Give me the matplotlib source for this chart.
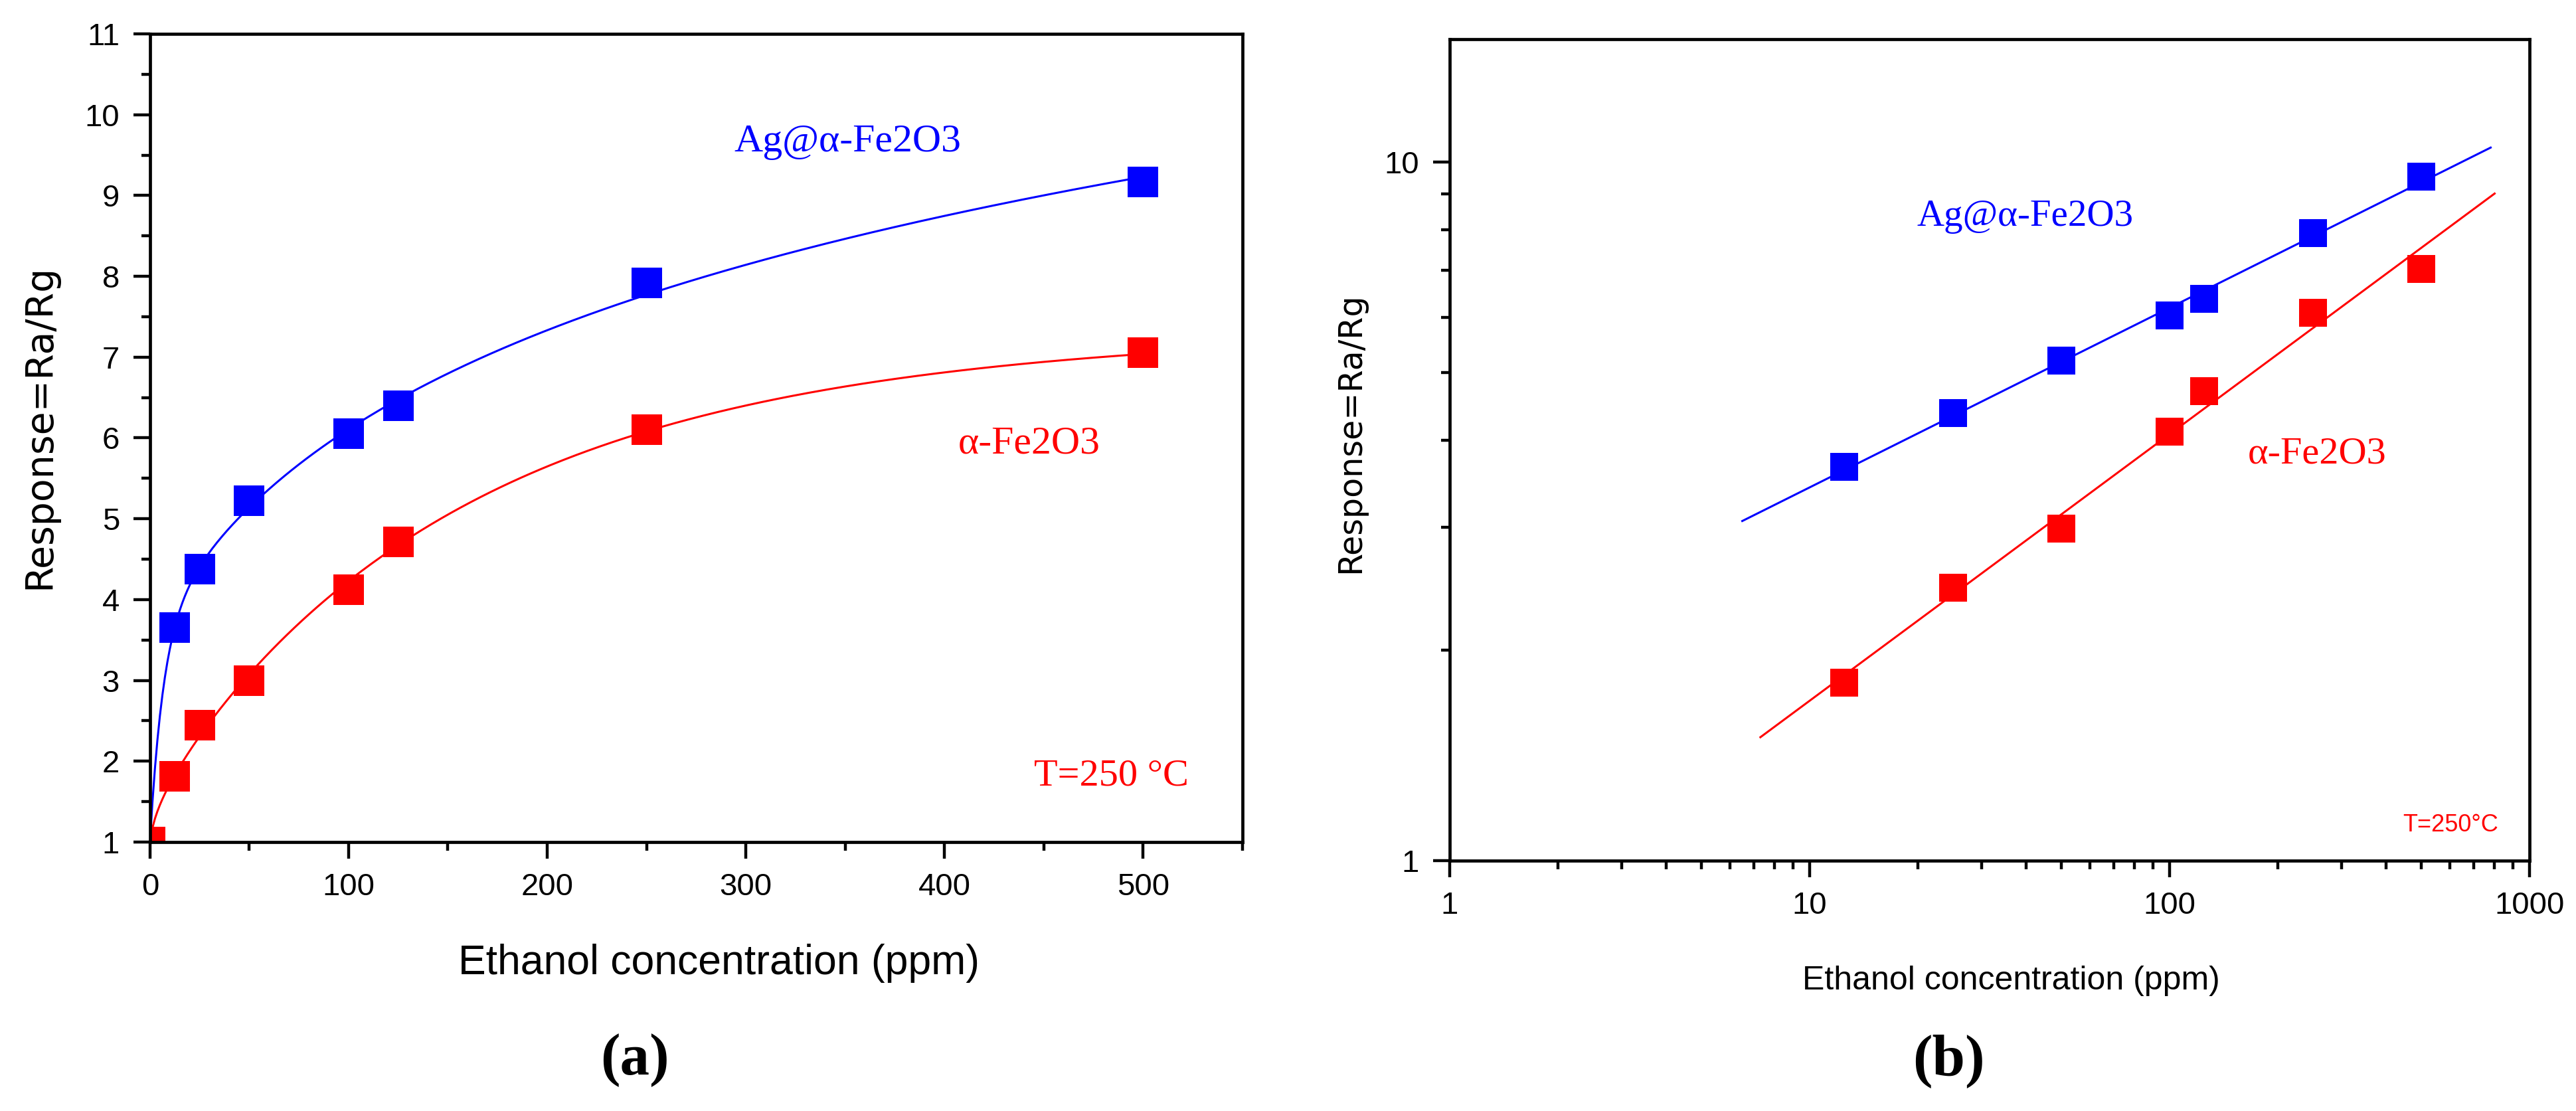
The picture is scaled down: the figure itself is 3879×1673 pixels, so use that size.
import numpy as np
import matplotlib
matplotlib.use("Agg")
import matplotlib.pyplot as plt
from matplotlib.ticker import MultipleLocator, LogLocator, NullFormatter

plt.rcParams['font.family'] = 'Liberation Sans'

# Datos - panel (a), escala lineal
conc_a = [0, 12.5, 25, 50, 100, 125, 250, 500]
ag_a = [1.0, 3.65, 4.38, 5.22, 6.05, 6.40, 7.92, 9.17]
fe_a = [1.0, 1.81, 2.45, 3.00, 4.12, 4.71, 6.10, 7.06]

# Datos - panel (b), escala log-log
conc_b = [12.5, 25, 50, 100, 125, 250, 500]
ag_b = [3.66, 4.37, 5.20, 6.03, 6.38, 7.92, 9.54]
fe_b = [1.80, 2.46, 2.99, 4.11, 4.70, 6.09, 7.04]
ag_line_range = [6.5, 780]
fe_line_range = [7.3, 800]

blue = '#0000ff'
red = '#ff0000'


def smooth_fit(x, y):
    # y = 1 + A*(1-exp(-x/t1)) + B*ln(1+x/t2); A, B por minimos cuadrados
    x = np.asarray(x, float)
    y = np.asarray(y, float) - 1
    best = None
    for t1 in np.logspace(0, 2.5, 50):
        for t2 in np.logspace(0, 3.5, 50):
            M = np.column_stack([1 - np.exp(-x / t1), np.log1p(x / t2)])
            coef = np.linalg.lstsq(M, y, rcond=None)[0]
            if coef.min() < 0:
                continue
            sse = ((M @ coef - y) ** 2).sum()
            if best is None or sse < best[0]:
                best = (sse, coef, t1, t2)
    _, (A, B), t1, t2 = best
    return lambda t: 1 + A * (1 - np.exp(-t / t1)) + B * np.log1p(t / t2)


fig = plt.figure(figsize=(19.4, 8.365), dpi=200)
ax1 = fig.add_axes([0.0582, 0.2421, 0.4240, 0.7274])
ax2 = fig.add_axes([0.5626, 0.2253, 0.4191, 0.7394])

for ax in (ax1, ax2):
    for s in ax.spines.values():
        s.set_linewidth(1.7)
    ax.tick_params(which='major', direction='out', length=9, width=1.6,
                   labelsize=17, pad=7.5)
    ax.tick_params(which='minor', direction='out', length=4.7, width=1.6)
    ax.tick_params(top=False, right=False, which='both')

# ---------- (a) ----------
xs = np.linspace(0, 500, 400)
fit_ag = smooth_fit(conc_a, ag_a)
fit_fe = smooth_fit(conc_a, fe_a)
ax1.plot(xs, fit_ag(xs), color=blue, lw=1.1)
ax1.plot(xs, fit_fe(xs), color=red, lw=1.1)
ax1.plot(conc_a, ag_a, 's', color=blue, ms=16.5, mew=0)
ax1.plot(conc_a, fe_a, 's', color=red, ms=16.5, mew=0)
ax1.set_xlim(0, 550)
ax1.set_ylim(1, 11)
ax1.xaxis.set_major_locator(MultipleLocator(100))
ax1.xaxis.set_minor_locator(MultipleLocator(50))
ax1.yaxis.set_major_locator(MultipleLocator(1))
ax1.yaxis.set_minor_locator(MultipleLocator(0.5))

ax1.text(294, 9.66, 'Ag@α-Fe2O3', color=blue, fontsize=21.5,
         family='Liberation Serif', ha='left', va='center')
ax1.text(407, 5.93, 'α-Fe2O3', color=red, fontsize=21.5,
         family='Liberation Serif', ha='left', va='center')
ax1.text(445, 1.82, 'T=250 °C', color=red, fontsize=21,
         family='Liberation Serif', ha='left', va='center')

ax1.set_xlabel('Ethanol concentration (ppm)', fontsize=22.5)
ax1.xaxis.set_label_coords(0.521, -0.150)
ax1.xaxis.label.set_va('center')
ax1.set_ylabel('Response=Ra/Rg', fontsize=20.5, family='DejaVu Sans')
ax1.yaxis.set_label_coords(-0.101, 0.514)
ax1.yaxis.label.set_va('center')

# ---------- (b) ----------
ax2.set_xscale('log')
ax2.set_yscale('log')
for conc, resp, rng, col in ((conc_b, ag_b, ag_line_range, blue),
                             (conc_b, fe_b, fe_line_range, red)):
    slope, intercept = np.polyfit(np.log10(conc), np.log10(resp), 1)
    lx = np.array(rng)
    ax2.plot(lx, 10 ** (intercept + slope * np.log10(lx)), color=col, lw=1.1)
ax2.plot(conc_b, ag_b, 's', color=blue, ms=15, mew=0)
ax2.plot(conc_b, fe_b, 's', color=red, ms=15, mew=0)
ax2.set_xlim(1, 1000)
ax2.set_ylim(1, 15)
ax2.set_xticks([1, 10, 100, 1000], ['1', '10', '100', '1000'])
ax2.set_yticks([1, 10], ['1', '10'])
ax2.xaxis.set_minor_locator(LogLocator(base=10, subs=np.arange(2, 10)))
ax2.yaxis.set_minor_locator(LogLocator(base=10, subs=np.arange(2, 10)))
ax2.xaxis.set_minor_formatter(NullFormatter())
ax2.yaxis.set_minor_formatter(NullFormatter())

ax2.text(19.9, 8.36, 'Ag@α-Fe2O3', color=blue, fontsize=20.5,
         family='Liberation Serif', ha='left', va='center')
ax2.text(165, 3.82, 'α-Fe2O3', color=red, fontsize=21,
         family='Liberation Serif', ha='left', va='center')
ax2.text(445, 1.124, 'T=250°C', color=red, fontsize=13, ha='left', va='center')

ax2.set_xlabel('Ethanol concentration (ppm)', fontsize=18)
ax2.xaxis.set_label_coords(0.520, -0.146)
ax2.xaxis.label.set_va('center')
ax2.set_ylabel('Response=Ra/Rg', fontsize=17.7, family='DejaVu Sans')
ax2.yaxis.set_label_coords(-0.092, 0.521)
ax2.yaxis.label.set_va('center')

fig.text(0.2464, 0.046, '(a)', fontsize=32, fontweight='bold',
         family='Liberation Serif', ha='center', va='center')
fig.text(0.7564, 0.0454, '(b)', fontsize=32, fontweight='bold',
         family='Liberation Serif', ha='center', va='center')

fig.savefig('out.png', dpi=200)
